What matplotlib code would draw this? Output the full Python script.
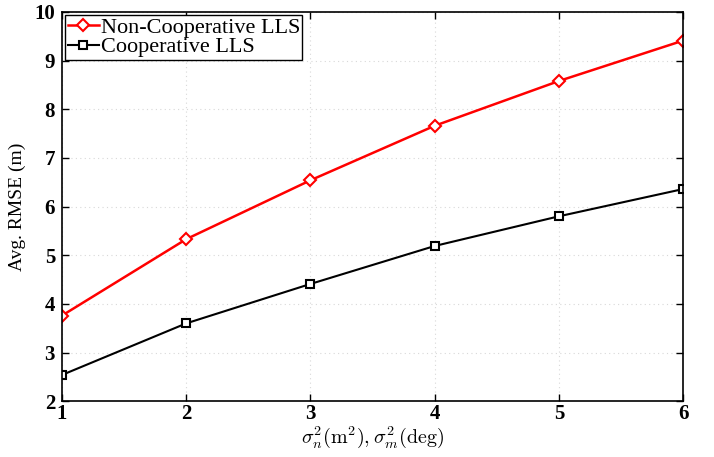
import matplotlib
matplotlib.use("Agg")
import matplotlib.pyplot as plt

x_vals = [1, 2, 3, 4, 5, 6]
non_coop = [3.76, 5.33, 6.54, 7.66, 8.58, 9.41]
coop = [2.54, 3.60, 4.41, 5.19, 5.80, 6.36]
labels = ["Non-Cooperative LLS", "Cooperative LLS"]

plt.rcParams['mathtext.fontset'] = 'cm'
plt.rcParams['font.family'] = ['Liberation Serif', 'DejaVu Serif']

fig = plt.figure(figsize=(7.14, 4.57), dpi=100)
ax = fig.add_axes([0.0868, 0.122, 0.870, 0.852])

ax.plot(x_vals, non_coop, color='red', lw=1.8, marker='D', ms=6.5, mfc='white',
        mec='red', mew=1.5, label=labels[0])
ax.plot(x_vals, coop, color='black', lw=1.5, marker='s', ms=6, mfc='white',
        mec='black', mew=1.5, label=labels[1])

ax.set_xlim(1, 6)
ax.set_ylim(2, 10)
ax.set_xticks(x_vals)
ax.set_yticks(range(2, 11))
ax.grid(True, linestyle=(0, (1, 3)), color='#d8d8d8', lw=0.8)
ax.tick_params(direction='in', top=True, right=True, length=5, width=1, labelsize=15)
ax.tick_params(axis='x', pad=2)
ax.tick_params(axis='y', pad=5)
for lab in ax.get_xticklabels() + ax.get_yticklabels():
    lab.set_fontweight('bold')
for sp in ax.spines.values():
    sp.set_linewidth(1.2)

ax.set_xlabel(r'$\sigma_n^2(\mathrm{m}^2),\sigma_m^2(\mathrm{deg})$', fontsize=14.5, labelpad=0)
ax.set_ylabel('Avg. RMSE (m)', fontsize=14, labelpad=6)

leg = ax.legend(loc='upper left', fontsize=16, frameon=True, fancybox=False,
                edgecolor='black', borderpad=0.1, labelspacing=-0.05,
                handlelength=1.4, handletextpad=0.1, borderaxespad=0.15)
leg.get_frame().set_linewidth(1.0)
leg.get_frame().set_alpha(1)

fig.savefig('out.png', dpi=100)
